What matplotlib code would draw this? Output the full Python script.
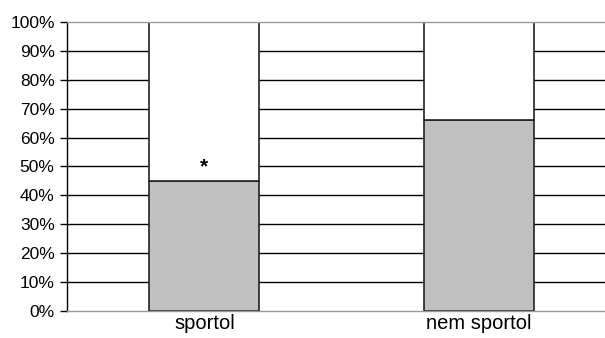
import matplotlib.pyplot as plt

# Data
categories = ["sportol", "nem sportol"]
gray_share = [45, 66]          # %
white_share = [55, 34]         # %
star_pos = 50                  # % height of the asterisk above "sportol"
yticks = list(range(0, 101, 10))

plt.rcParams['font.family'] = ['Liberation Sans', 'DejaVu Sans']

fig = plt.figure(figsize=(6.05, 3.38), dpi=100)
ax = fig.add_axes([0.111, 0.08, 0.889, 0.855])

x = list(range(len(categories)))

# horizontal gridlines (drawn below the bars)
for v in yticks[1:-1]:
    ax.axhline(v, color='black', lw=1.0, zorder=1)

ax.bar(x, gray_share, width=0.4, color='#c0c0c0', edgecolor='#222222', lw=1.2, zorder=2)
ax.bar(x, white_share, width=0.4, bottom=gray_share, color='white',
       edgecolor='#222222', lw=1.2, zorder=2)

ax.text(0, star_pos, "*", ha='center', va='center', fontsize=15, fontweight='bold', zorder=3)

ax.set_ylim(0, 100)
ax.set_xlim(-0.5, 1.46)
ax.set_yticks(yticks)
ax.set_yticklabels([f"{v}%" for v in yticks], fontsize=12.5)
ax.set_xticks(x)
ax.set_xticklabels(categories, fontsize=14.5)
ax.tick_params(axis='x', length=0, pad=2)
ax.tick_params(axis='y', length=5, width=1, direction='out', pad=4)

ax.spines['right'].set_visible(False)
ax.spines['top'].set_color('#999999')
ax.spines['bottom'].set_color('#999999')
ax.spines['left'].set_color('black')
for s in ax.spines.values():
    s.set_linewidth(1.0)

plt.savefig("out.png", dpi=100)
